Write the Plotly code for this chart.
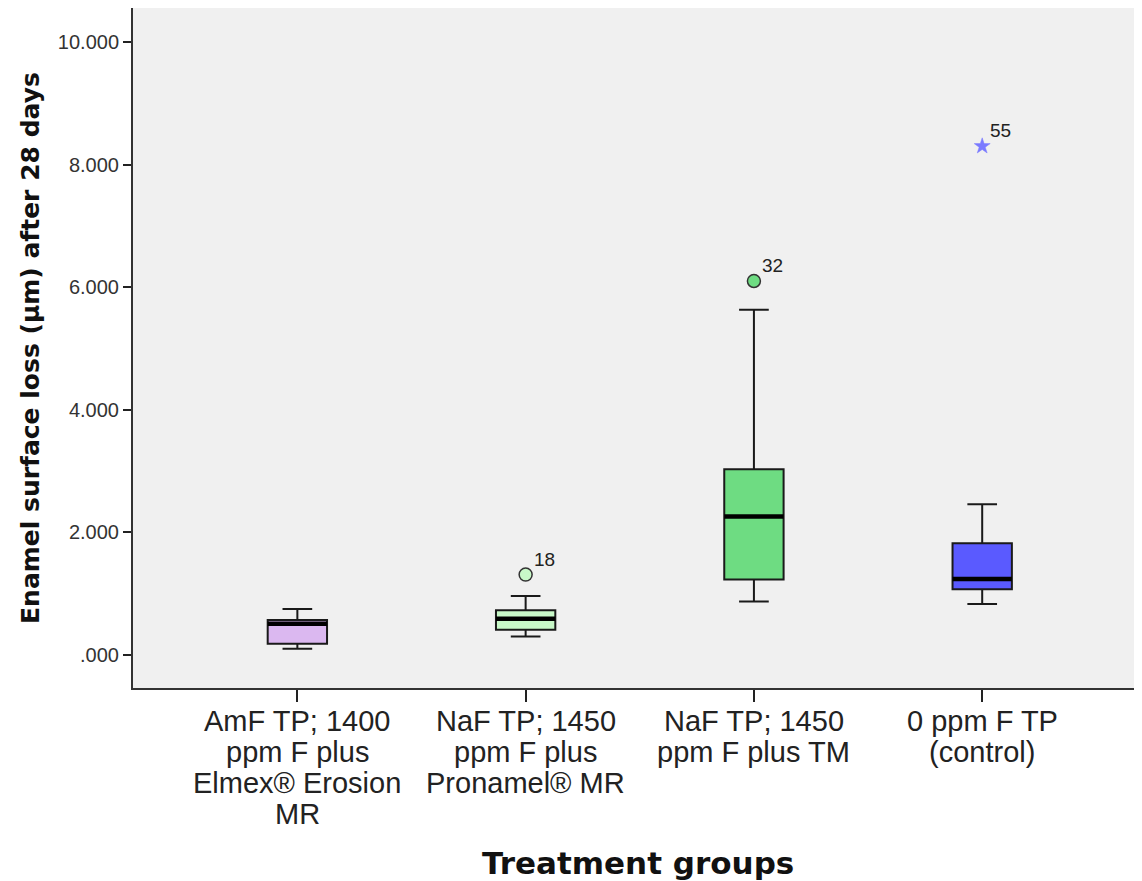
import plotly.graph_objects as go

categories = [
    "AmF TP; 1400<br>ppm F plus<br>Elmex® Erosion<br>MR",
    "NaF TP; 1450<br>ppm F plus<br>Pronamel® MR",
    "NaF TP; 1450<br>ppm F plus TM",
    "0 ppm F TP<br>(control)",
]
lower_whisker = [0.10, 0.30, 0.87, 0.83]
q1 = [0.18, 0.41, 1.23, 1.07]
median = [0.51, 0.59, 2.26, 1.24]
q3 = [0.57, 0.73, 3.03, 1.82]
upper_whisker = [0.75, 0.96, 5.63, 2.46]
fill_colors = ["#dbb8f0", "#c8f8c8", "#6edc82", "#5a5aff"]

outlier_group = [1, 2, 3]
outlier_value = [1.31, 6.10, 8.30]
outlier_label = ["18", "32", "55"]
outlier_symbol = ["circle", "circle", "star"]
outlier_color = ["#c8f8c8", "#6edc82", "#7a7aff"]
outlier_line = ["#333333", "#333333", "#7a7aff"]

y_tickvals = [0, 2, 4, 6, 8, 10]
y_ticktext = [".000", "2.000", "4.000", "6.000", "8.000", "10.000"]

x_title = "Treatment groups"
y_title = "Enamel surface loss (µm) after 28 days"

box_width = 0.26
xpos = list(range(len(categories)))

fig = go.Figure()
for i in xpos:
    fig.add_trace(go.Box(
        x=[i], q1=[q1[i]], median=[median[i]], q3=[q3[i]],
        lowerfence=[lower_whisker[i]], upperfence=[upper_whisker[i]],
        width=box_width, whiskerwidth=0.5,
        fillcolor=fill_colors[i],
        line=dict(color="#1a1a1a", width=2),
        boxpoints=False, showlegend=False, hoverinfo="skip",
    ))
    fig.add_trace(go.Scatter(
        x=[i - box_width / 2, i + box_width / 2], y=[median[i], median[i]],
        mode="lines", line=dict(color="black", width=4.5),
        showlegend=False, hoverinfo="skip",
    ))

for g, v, lab, sym, col, lc in zip(outlier_group, outlier_value, outlier_label,
                                   outlier_symbol, outlier_color, outlier_line):
    fig.add_trace(go.Scatter(
        x=[g], y=[v], mode="markers", marker=dict(
            symbol=sym, size=13 if sym == "circle" else 12, color=col,
            line=dict(color=lc, width=1.5 if sym == "circle" else 0.5)),
        showlegend=False, hoverinfo="skip",
    ))
    fig.add_annotation(
        x=g, y=v, text=lab, showarrow=False, xanchor="left", yanchor="bottom",
        xshift=6, yshift=3,
        font=dict(family="Liberation Sans, Arial", size=19, color="#222222"),
    )

# category labels, one annotation per line for tight line spacing
for i, cat in enumerate(categories):
    for k, line in enumerate(cat.split("<br>")):
        fig.add_annotation(
            x=i, xref="x", y=0, yref="paper", text=line, showarrow=False,
            xanchor="center", yanchor="middle", yshift=-(33 + 31 * k),
            font=dict(family="Liberation Sans, Arial", size=29, color="#222222"),
        )

fig.add_annotation(
    x=0.5, xref="paper", y=0, yref="paper", text="<b>" + x_title + "</b>",
    showarrow=False, xanchor="center", yanchor="middle", yshift=-175,
    font=dict(family="DejaVu Sans", size=31, color="#111111"),
)
fig.add_annotation(
    x=0, xref="paper", y=0.5, yref="paper", text="<b>" + y_title + "</b>",
    showarrow=False, xanchor="center", yanchor="middle", xshift=-103,
    textangle=-90,
    font=dict(family="DejaVu Sans", size=25, color="#111111"),
)

fig.update_layout(
    width=1134, height=873,
    margin=dict(l=125, r=0, t=0, b=193, autoexpand=False),
    paper_bgcolor="white", plot_bgcolor="#f0f0f0",
    font=dict(family="Liberation Sans, Arial", color="#222222"),
)
fig.update_xaxes(
    range=[-0.72, 3.70], tickvals=xpos, showticklabels=False,
    ticks="outside", ticklen=12, tickwidth=2, tickcolor="#222222",
    showgrid=False, zeroline=False,
    showline=True, linecolor="#333333", linewidth=2, mirror=True,
)
fig.update_yaxes(
    range=[-0.54, 10.555], tickvals=y_tickvals, ticktext=y_ticktext,
    ticks="outside", ticklen=8, tickwidth=2, tickcolor="#222222",
    tickfont=dict(size=20, color="#333333"),
    showgrid=False, zeroline=False,
    showline=True, linecolor="#333333", linewidth=2, mirror=False,
)

fig.write_html("out.html")
